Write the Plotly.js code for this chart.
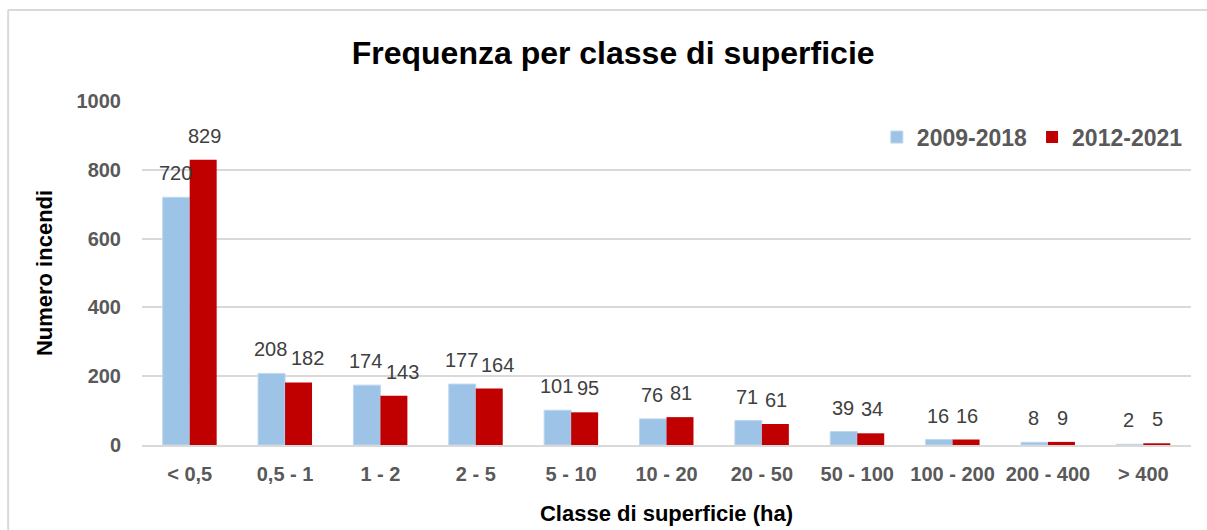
<!DOCTYPE html>
<html>
<head>
<meta charset="utf-8">
<script src="https://cdn.plot.ly/plotly-3.0.1.min.js"></script>
<style>
html,body{margin:0;padding:0;background:#fff;}
#chart{width:1207px;height:530px;}
</style>
</head>
<body>
<div id="chart"></div>
<script>
const categories = ["< 0,5", "0,5 - 1", "1 - 2", "2 - 5", "5 - 10", "10 - 20", "20 - 50", "50 - 100", "100 - 200", "200 - 400", "> 400"];
const series1Name = "2009-2018";
const series2Name = "2012-2021";
const series1 = [720, 208, 174, 177, 101, 76, 71, 39, 16, 8, 2];
const series2 = [829, 182, 143, 164, 95, 81, 61, 34, 16, 9, 5];
const yTicks = [0, 200, 400, 600, 800, 1000];

const FONT = "Liberation Sans, Arial, sans-serif";
const blue = "#9DC3E6";
const red = "#C00000";

const traces = [
  {type: "bar", name: series1Name, x: categories, y: series1,
   marker: {color: blue, line: {color: "#BDD7EE", width: 1}}, hoverinfo: "none"},
  {type: "bar", name: series2Name, x: categories, y: series2,
   marker: {color: red, line: {color: "#E06666", width: 0}}, hoverinfo: "none"}
];

// label placement: centred over each bar, nudging the second label right when the pair would collide
const annotations = [];
const off = 14.6;
const pxPerUnit = 344 / 1000;
const digitW = 11.2, textH = 20;
categories.forEach((c, i) => {
  const w1 = String(series1[i]).length * digitW;
  const w2 = String(series2[i]).length * digitW;
  const dy = Math.abs(series1[i] - series2[i]) * pxPerUnit;
  let nudge = 0;
  if (dy < textH) nudge = Math.max(0, (w1 + w2) / 2 + 3 - 2 * off);
  annotations.push({x: c, y: series1[i], xref: "x", yref: "y", text: String(series1[i]),
    showarrow: false, xshift: -off, yshift: 11, yanchor: "bottom", xanchor: "center",
    font: {family: FONT, size: 20, color: "#404040"}});
  annotations.push({x: c, y: series2[i], xref: "x", yref: "y", text: String(series2[i]),
    showarrow: false, xshift: off + nudge, yshift: 11, yanchor: "bottom", xanchor: "center",
    font: {family: FONT, size: 20, color: "#404040"}});
});

const layout = {
  width: 1207, height: 530,
  margin: {l: 142, r: 16, t: 101, b: 85},
  paper_bgcolor: "#fff", plot_bgcolor: "#fff",
  barmode: "group", bargap: 0.434, bargroupgap: 0,
  title: {text: "<b>Frequenza per classe di superficie</b>", x: 0.508, xref: "container", xanchor: "center",
          y: 0.9, yref: "container", yanchor: "middle",
          font: {family: FONT, size: 32, color: "#000"}},
  xaxis: {
    type: "category",
    tickfont: {family: FONT, size: 20, color: "#595959", weight: "bold"},
    showgrid: false, showline: true, linecolor: "#D9D9D9", linewidth: 2,
    ticks: "", ticklabelstandoff: 10,
    title: {text: "<b>Classe di superficie (ha)</b>", font: {family: FONT, size: 22, color: "#000"}, standoff: 22}
  },
  yaxis: {
    range: [0, 1000], tickvals: yTicks, ticktext: yTicks.map(String),
    tickfont: {family: FONT, size: 20, color: "#595959", weight: "bold"},
    showgrid: true, gridcolor: "#D9D9D9", gridwidth: 2,
    zeroline: false, showline: false, ticks: "", ticklabelstandoff: 20,
    title: {text: "<b>Numero incendi</b>", font: {family: FONT, size: 22, color: "#000"}, standoff: 17}
  },
  legend: {orientation: "h", x: 0.997, xanchor: "right", y: 0.895, yanchor: "middle",
    font: {family: FONT, size: 23, color: "#595959", weight: "bold"},
    bgcolor: "rgba(0,0,0,0)", itemwidth: 30, traceorder: "normal"},
  showlegend: true,
  annotations: annotations,
  shapes: [
    {type: "line", xref: "paper", yref: "paper", x0: -0.1276, x1: 1.02, y0: 1.2645, y1: 1.2645,
     line: {color: "#D9D9D9", width: 2}},
    {type: "line", xref: "paper", yref: "paper", x0: -0.1276, x1: -0.1276, y0: 1.2645, y1: -0.26,
     line: {color: "#D9D9D9", width: 2}}
  ]
};

Plotly.newPlot("chart", traces, layout, {displayModeBar: false, staticPlot: true});
</script>
</body>
</html>
